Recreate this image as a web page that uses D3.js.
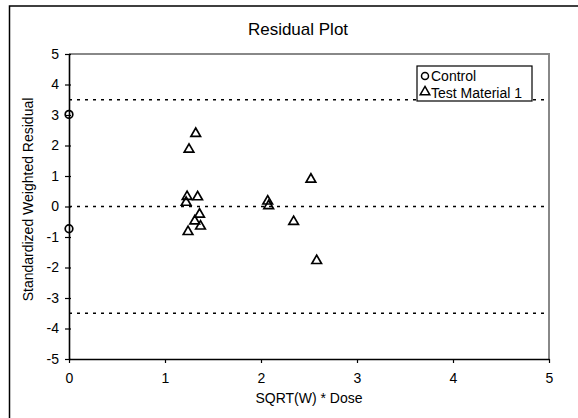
<!DOCTYPE html>
<html>
<head>
<meta charset="utf-8">
<script src="https://cdn.jsdelivr.net/npm/d3@7"></script>
<style>
  body { margin: 0; background: #fff; }
  text { font-family: "Liberation Sans", Arial, sans-serif; fill: #000; }
</style>
</head>
<body>
<div id="chart"></div>
<script>
// data
const controlX = [0, 0];
const controlY = [3.02, -0.73];
const testX = [1.32, 1.25, 1.23, 1.22, 1.34, 1.36, 1.31, 1.37, 1.24, 2.07, 2.08, 2.52, 2.34, 2.58];
const testY = [2.36, 1.84, 0.29, 0.10, 0.28, -0.29, -0.51, -0.68, -0.86, 0.14, -0.01, 0.86, -0.53, -1.81];
const refLines = [3.5, 0, -3.5];
const xTicks = [0, 1, 2, 3, 4, 5];
const yTicks = [-5, -4, -3, -2, -1, 0, 1, 2, 3, 4, 5];
const seriesNames = ["Control", "Test Material 1"];

const W = 578, H = 418;
let margin = {top: 54, right: 29, bottom: 59, left: 69},
    width = W - margin.left - margin.right,
    height = H - margin.top - margin.bottom;

const svg = d3.select("#chart").append("svg")
    .attr("width", W).attr("height", H);

// outer chart frame (runs off the right/bottom edge like the reference)
svg.append("rect")
    .attr("x", 9.5).attr("y", 6).attr("width", 620).attr("height", 440)
    .attr("fill", "none").attr("stroke", "#000").attr("stroke-width", 1.5);

const g = svg.append("g").attr("transform", `translate(${margin.left},${margin.top})`);

const xScale = d3.scaleLinear().domain([0, 5]).range([0, width]);
const yScale = d3.scaleLinear().domain([-5, 5]).range([height, 0]);

// plot area: grey top and right edges
g.append("path")
    .attr("d", `M0,0H${width}V${height}`)
    .attr("fill", "none").attr("stroke", "#888").attr("stroke-width", 2);

// dotted reference lines
g.selectAll(".ref").data(refLines).join("line")
    .attr("x1", 0).attr("x2", width)
    .attr("y1", d => yScale(d)).attr("y2", d => yScale(d))
    .attr("stroke", "#000").attr("stroke-width", 1.6)
    .attr("stroke-dasharray", "3,5");

// axes (plain hyphen for negatives, like the reference)
const fmt = d => String(d);
const xAxis = g.append("g").attr("transform", `translate(0,${height})`)
    .call(d3.axisBottom(xScale).tickValues(xTicks).tickFormat(fmt).tickSizeInner(4).tickSizeOuter(0).tickPadding(10));
const yAxis = g.append("g")
    .call(d3.axisLeft(yScale).tickValues(yTicks).tickFormat(fmt).tickSizeInner(4).tickSizeOuter(0).tickPadding(6));
[xAxis, yAxis].forEach(a => {
    a.select(".domain").attr("stroke", "#000").attr("stroke-width", 1.6);
    a.selectAll(".tick line").attr("stroke", "#000").attr("stroke-width", 1.2);
    a.selectAll("text").attr("font-size", 14).attr("font-family", "Liberation Sans, Arial, sans-serif");
});
yAxis.selectAll(".tick line").attr("x2", 2).attr("x1", -4);

// markers
const tri = d3.symbol().type(d3.symbolTriangle).size(40);
const testData = testX.map((x, i) => ({x: x, y: testY[i]}));
const controlData = controlX.map((x, i) => ({x: x, y: controlY[i]}));

g.selectAll(".tri").data(testData).join("path")
    .attr("d", tri)
    .attr("transform", d => `translate(${xScale(d.x)},${yScale(d.y) - 1})`)
    .attr("fill", "none").attr("stroke", "#000").attr("stroke-width", 1.7);

g.selectAll(".ctl").data(controlData).join("circle")
    .attr("cx", d => xScale(d.x)).attr("cy", d => yScale(d.y)).attr("r", 3.8)
    .attr("fill", "none").attr("stroke", "#000").attr("stroke-width", 1.7);

// title and axis labels
svg.append("text").attr("x", 298).attr("y", 35).attr("text-anchor", "middle")
    .attr("font-size", 17).text("Residual Plot");
svg.append("text").attr("x", 309).attr("y", 403).attr("text-anchor", "middle")
    .attr("font-size", 14).text("SQRT(W) * Dose");
svg.append("text").attr("transform", "translate(32.5,199.5) rotate(-90)")
    .attr("text-anchor", "middle").attr("font-size", 14)
    .text("Standardized Weighted Residual");

// legend
const legend = svg.append("g").attr("transform", "translate(417,66)");
legend.append("rect").attr("width", 115).attr("height", 35)
    .attr("fill", "#fff").attr("stroke", "#000").attr("stroke-width", 1.2);
legend.append("circle").attr("cx", 8).attr("cy", 10).attr("r", 3.5)
    .attr("fill", "none").attr("stroke", "#000").attr("stroke-width", 1.5);
legend.append("path").attr("d", tri).attr("transform", "translate(8,26)")
    .attr("fill", "none").attr("stroke", "#000").attr("stroke-width", 1.5);
legend.selectAll(".lt").data(seriesNames).join("text")
    .attr("x", 14).attr("y", (d, i) => 15 + i * 16.5)
    .attr("font-size", 14).text(d => d);
</script>
</body>
</html>
